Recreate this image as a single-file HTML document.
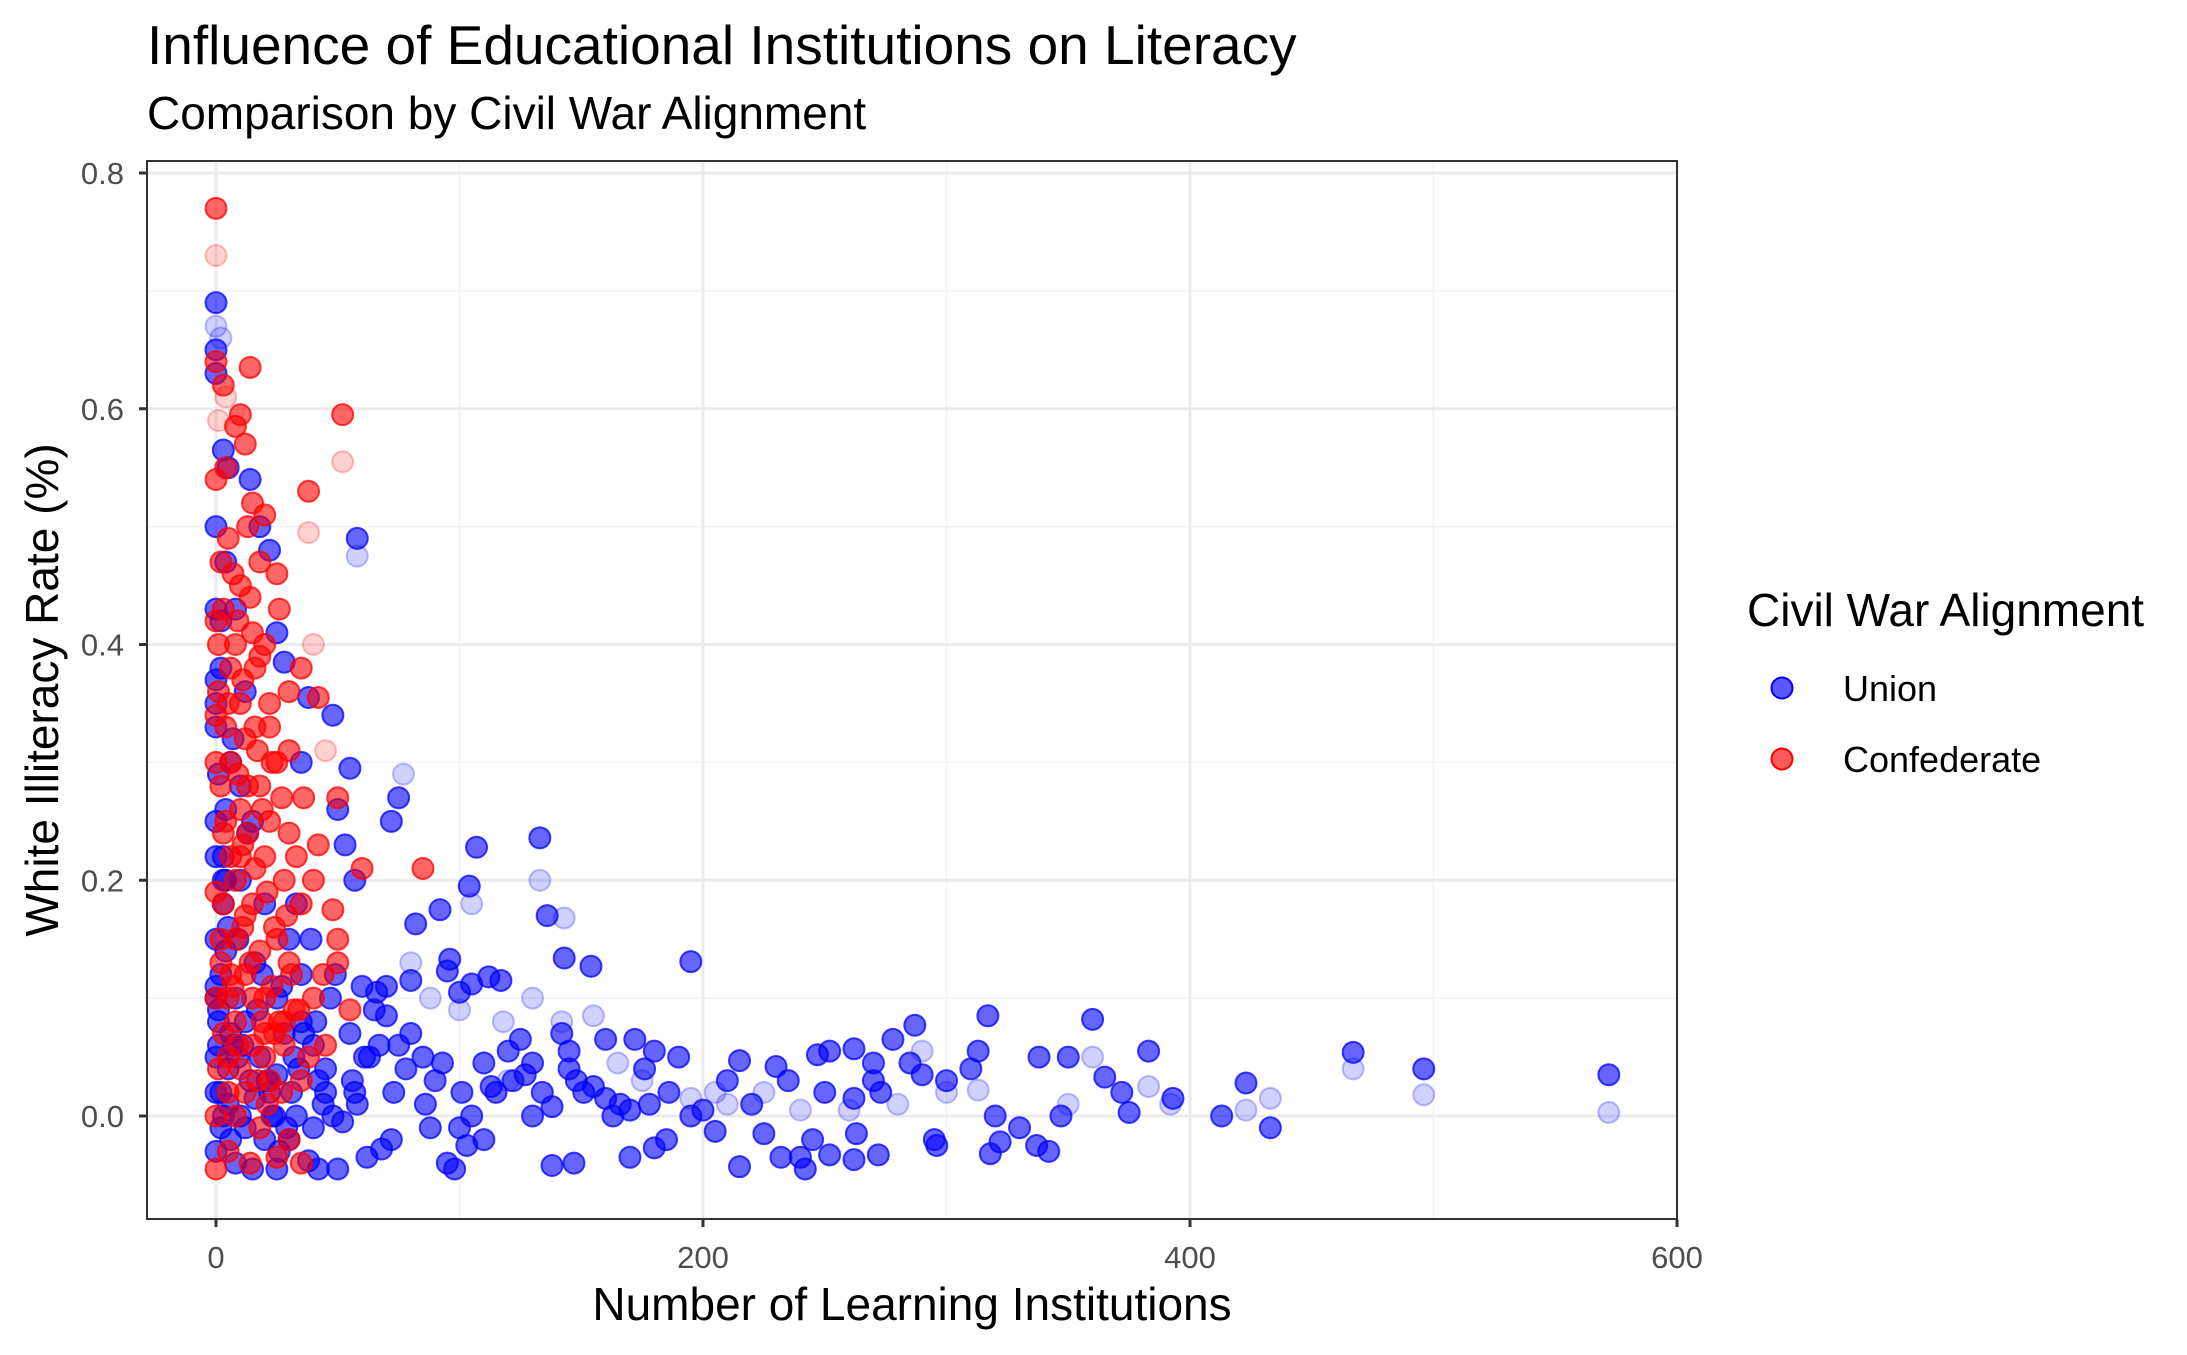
<!DOCTYPE html>
<html><head><meta charset="utf-8"><style>
body{margin:0;background:#fff;}
svg text{font-family:"Liberation Sans",Arial,sans-serif;}
</style></head><body>
<svg id="chart" width="2187" height="1350" xmlns="http://www.w3.org/2000/svg">
<rect width="2187" height="1350" fill="#fff"/>
<text x="147" y="64" font-size="55" fill="#000">Influence of Educational Institutions on Literacy</text>
<text x="147" y="129" font-size="46" fill="#000">Comparison by Civil War Alignment</text>
<g id="grid"></g>
<g id="faint"></g>
<g id="union"></g>
<g id="conf"></g>
<rect x="147" y="161" width="1530" height="1058" fill="none" stroke="#333" stroke-width="2"/>
<g id="axes"></g>
<text x="912" y="1320" font-size="46" text-anchor="middle" fill="#000">Number of Learning Institutions</text>
<text transform="translate(58,690) rotate(-90)" font-size="46" text-anchor="middle" fill="#000">White Illiteracy Rate (%)</text>
<g>
<text x="1747" y="626" font-size="46" fill="#000">Civil War Alignment</text>
<g>
<circle cx="1782" cy="688" r="10.5" fill="#0000ff" fill-opacity="0.65" stroke="#0000ff" stroke-width="2"/>
<text x="1843" y="701" font-size="36" fill="#000">Union</text></g>
<g>
<circle cx="1782" cy="759" r="10.5" fill="#ff0000" fill-opacity="0.65" stroke="#ff0000" stroke-width="2"/>
<text x="1843" y="772" font-size="36" fill="#000">Confederate</text></g>
</g>
</svg>
<script>
const xTicks=[0,200,400,600];
const xMinor=[100,300,500];
const yTicks=[0,0.2,0.4,0.6,0.8];
const yMinor=[0.1,0.3,0.5,0.7];
const yTickLabels=["0.0","0.2","0.4","0.6","0.8"];
const unionX=[58,48,38,55,50,35,75,72,107,133,104,92,82,136,57,53,195,143,154,96,95,112,117,105,100,80,70,66,60,160,172,180,190,215,230,235,247,252,262,270,278,287,285,290,310,313,317,338,350,360,365,372,383,393,413,423,433,467,496,572,320,330,337,342,347,375,296,295,318,322,273,270,262,250,245,240,242,252,262,263,272,232,225,215,210,205,195,185,180,178,170,170,163,160,155,148,145,145,142,147,138,130,125,120,115,110,105,103,98,95,90,85,80,75,70,65,62,58,55,50,45,42,38,35,110,100,88,78,72,68,130,138,200,220,300,0,0,0,3,5,14,0,18,22,4,8,0,25,28,2,0,6,10,15,0,3,20,30,0,2,8,12,1,5,0,3,0,8,15,25,22,30,18,28,35,40,10,4,0,1,2,10,20,33,40,25,16,5,0,7,12,0,6,14,25,32,45,48,42,
2,6,1,9,4,12,0,3,17,21,27,31,36,44,52,57,63,47,39,34,24,13,9,2,0,5,11,19,26,33,41,49,56,61,67,73,86,93,101,113,122,127,134,151,166,176,186,1,3,7,16,23,29,0,4];
const unionY=[0.49,0.34,0.355,0.295,0.26,0.3,0.27,0.25,0.228,0.236,0.195,0.175,0.163,0.17,0.2,0.23,0.131,0.134,0.127,0.133,0.123,0.118,0.115,0.112,0.105,0.115,0.11,0.105,0.11,0.065,0.065,0.055,0.05,0.047,0.042,0.03,0.052,0.055,0.057,0.045,0.065,0.077,0.045,0.035,0.04,0.055,0.085,0.05,0.05,0.082,0.033,0.02,0.055,0.015,0.0,0.028,-0.01,0.054,0.04,0.035,0.0,-0.01,-0.025,-0.03,0.0,0.003,-0.025,-0.02,-0.032,-0.022,0.02,0.03,0.015,0.02,-0.02,-0.035,-0.045,-0.033,-0.037,-0.015,-0.033,-0.035,-0.015,-0.043,0.03,-0.013,0.0,-0.02,-0.027,0.01,0.005,-0.035,0.0,0.015,0.025,0.03,0.04,0.055,0.07,-0.04,-0.042,0.045,0.065,0.055,0.02,0.045,0.0,-0.025,-0.045,-0.04,0.03,0.05,0.07,0.06,0.085,0.09,-0.035,0.01,0.07,-0.045,0.04,-0.045,-0.038,0.08,-0.02,-0.01,-0.01,0.04,-0.02,-0.028,0.0,0.008,0.005,0.01,0.03,0.69,0.65,0.63,0.565,0.55,0.54,0.5,0.5,0.48,0.47,0.43,0.43,0.41,0.385,0.38,0.35,0.3,0.28,0.25,0.22,0.2,0.18,0.15,0.15,0.12,0.1,0.08,0.06,0.04,0.02,0.0,-0.03,-0.04,-0.045,-0.045,0.02,-0.02,0.05,0.07,0.12,0.06,0.2,0.26,0.1,0.08,-0.01,0.0,-0.02,0.0,-0.01,0.1,0.13,0.16,0.25,0.32,0.36,0.05,0.07,0.03,0.035,0.05,0.02,0.0,0.03,
0.02,-0.02,0.09,0.05,0.14,-0.01,0.33,0.18,0.09,0.03,0.11,0.02,0.07,0.01,-0.005,0.02,0.05,0.1,0.15,0.04,0.0,0.24,0.15,0.42,0.11,0.01,0.06,0.12,-0.03,0.18,0.08,0.12,0.03,0.05,0.06,0.02,0.01,0.045,0.02,0.025,0.03,0.035,0.02,0.02,0.01,0.04,0.02,0.29,0.22,0.06,0.015,0.0,-0.01,0.37,0.2];
const confX=[0,0,3,14,10,52,8,12,0,4,38,15,20,5,25,18,2,10,0,8,15,35,30,22,42,5,0,12,25,18,30,50,10,3,20,60,85,40,35,48,15,0,8,25,30,50,12,5,20,40,55,3,15,28,38,45,10,22,35,0,8,18,30,5,14,25,35,0,10,6,16,2,22,28,12,18,6,32,26,44,50,8,20,0,2,14,20,26,30,36,42,13,7,
1,4,9,11,17,19,23,27,33,3,6,13,16,21,24,29,31,2,7,11,14,19,24,1,5,9,12,17,21,27,4,8,15,23,0,6,10,13,18,22,3,9,16,1,11,20,5,28,34];
const confY=[0.77,0.64,0.62,0.635,0.595,0.595,0.585,0.57,0.54,0.55,0.53,0.52,0.51,0.49,0.46,0.47,0.47,0.45,0.42,0.4,0.41,0.38,0.36,0.35,0.355,0.35,0.3,0.32,0.3,0.28,0.24,0.27,0.26,0.24,0.22,0.21,0.21,0.2,0.18,0.175,0.18,0.19,0.15,0.15,0.13,0.13,0.12,0.1,0.1,0.1,0.09,0.07,0.06,0.06,0.05,0.06,0.04,0.03,0.03,0.0,0.0,-0.01,-0.02,-0.03,-0.04,-0.035,-0.04,-0.045,0.22,0.38,0.33,0.28,0.25,0.2,0.17,0.14,0.12,0.09,0.08,0.12,0.15,0.08,0.05,0.1,0.15,0.44,0.4,0.43,0.31,0.27,0.23,0.5,0.46,
0.36,0.33,0.29,0.37,0.31,0.26,0.3,0.27,0.22,0.18,0.22,0.24,0.21,0.19,0.16,0.17,0.12,0.13,0.11,0.16,0.13,0.08,0.07,0.04,0.05,0.06,0.02,0.03,0.01,0.02,0.25,0.2,0.1,0.11,0.34,0.3,0.35,0.28,0.39,0.33,0.43,0.42,0.38,0.4,0.23,0.07,0.02,0.08,0.09];
const faintX=[0,52,58,77,133,105,143,290,313,360,383,392,423,433,467,496,572,350,300,280,260,240,225,210,195,175,165,155,142,118,100,88,80,120,130,205,0,2,4,1,38,40,45];
const faintY=[0.73,0.555,0.475,0.29,0.2,0.18,0.168,0.055,0.022,0.05,0.025,0.01,0.005,0.015,0.04,0.018,0.003,0.01,0.02,0.01,0.005,0.005,0.02,0.01,0.015,0.03,0.045,0.085,0.08,0.08,0.09,0.1,0.13,0.03,0.1,0.02,0.67,0.66,0.61,0.59,0.495,0.4,0.31];
const faintIsRed=[1,1,0,0,0,0,0,0,0,0,0,0,0,0,0,0,0,0,0,0,0,0,0,0,0,0,0,0,0,0,0,0,0,0,0,0,0,0,1,1,1,1,1];
const NS="http://www.w3.org/2000/svg";
const X0=147,X1=1677,Y0=161,Y1=1219;
const xScale=v=>216+v*(1677-216)/600;
const yScale=v=>1116-v*(1116-173)/0.8;
const R=10.5;
function mk(tag,attrs,parent){const e=document.createElementNS(NS,tag);for(const k in attrs)e.setAttribute(k,attrs[k]);parent.appendChild(e);return e;}
const grid=document.getElementById('grid'),axes=document.getElementById('axes');
yMinor.forEach(v=>{const l=mk('line',{x1:X0,x2:X1,y1:yScale(v),y2:yScale(v),stroke:'#f2f2f2','stroke-width':1.5},grid);

});
xMinor.forEach(v=>{const l=mk('line',{x1:xScale(v),x2:xScale(v),y1:Y0,y2:Y1,stroke:'#f2f2f2','stroke-width':1.5},grid);

});
yTicks.forEach((v,i)=>{const l=mk('line',{x1:X0,x2:X1,y1:yScale(v),y2:yScale(v),stroke:'#ebebeb','stroke-width':3},grid);


mk('line',{x1:X0-8,x2:X0,y1:yScale(v),y2:yScale(v),stroke:'#333','stroke-width':3},axes);
const t=mk('text',{x:X0-23,y:yScale(v)+11,'font-size':31,'text-anchor':'end',fill:'#4d4d4d'},axes);t.textContent=yTickLabels[i];

});
xTicks.forEach(v=>{const l=mk('line',{x1:xScale(v),x2:xScale(v),y1:Y0,y2:Y1,stroke:'#ebebeb','stroke-width':3},grid);


mk('line',{x1:xScale(v),x2:xScale(v),y1:Y1,y2:Y1+8,stroke:'#333','stroke-width':3},axes);
const t=mk('text',{x:xScale(v),y:Y1+49,'font-size':31,'text-anchor':'middle',fill:'#4d4d4d'},axes);t.textContent=String(v);

});
const fg=document.getElementById('faint');
faintX.forEach((x,i)=>{const col=faintIsRed[i]?'#ff0000':'#0000ff';
const c=mk('circle',{cx:xScale(x),cy:yScale(faintY[i]),r:R,fill:col,'fill-opacity':0.18,stroke:col,'stroke-opacity':0.25,'stroke-width':2},fg);

});
const ug=document.getElementById('union');
unionX.forEach((x,i)=>{const c=mk('circle',{cx:xScale(x),cy:yScale(unionY[i]),r:R,fill:'#0000ff','fill-opacity':0.6,stroke:'#0000ff','stroke-opacity':0.75,'stroke-width':2},ug);

});
const cg=document.getElementById('conf');
confX.forEach((x,i)=>{const c=mk('circle',{cx:xScale(x),cy:yScale(confY[i]),r:R,fill:'#ff0000','fill-opacity':0.6,stroke:'#ff0000','stroke-opacity':0.75,'stroke-width':2},cg);

});
</script>
</body></html>
